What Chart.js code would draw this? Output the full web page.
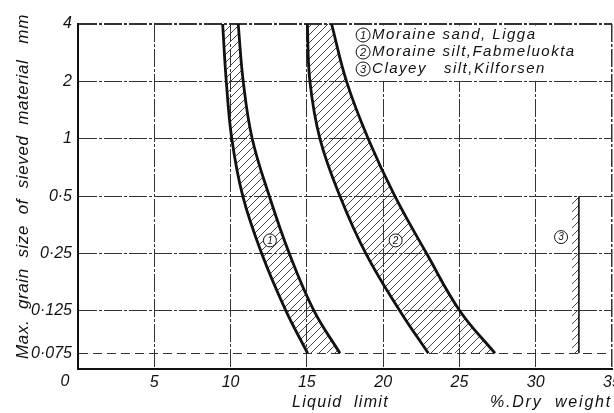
<!DOCTYPE html>
<html>
<head>
<meta charset="utf-8">
<script src="https://cdn.jsdelivr.net/npm/chart.js@4/dist/chart.umd.min.js"></script>
<style>
    html, body { margin: 0; padding: 0; background: #fff; }
</style>
</head>
<body>
<canvas id="chart" width="614" height="413"></canvas>
<script>
// grain size levels (mm), bottom to top
const grainSizes = [0.075, 0.125, 0.25, 0.5, 1, 2, 4];

// liquid limit (% dry weight) on the edges of each band
const sandLeft  = [15.05, 13.63, 12.04, 10.80, 10.08, 9.72, 9.48];
const sandRight = [17.17, 15.47, 13.85, 12.54, 11.42, 10.83, 10.50];
const siltLeft  = [22.96, 21.10, 18.87, 17.17, 15.86, 15.20, 15.03];
const siltRight = [27.33, 25.03, 22.85, 20.77, 19.02, 17.60, 16.62];

// clayey silt: a single vertical line
const claySizes = [0.075, 0.5];
const clayLimit = [32.83, 32.83];

const xTickValues = [0, 5, 10, 15, 20, 25, 30, 35];
const yTickValues = [0.075, 0.125, 0.25, 0.5, 1, 2, 4];
const yTickLabels = ["0·075", "0·125", "0·25", "0·5", "1", "2", "4"];

const legendItems = ["Moraine sand, Ligga", "Moraine silt,Fabmeluokta", "Clayey   silt,Kilforsen"];
// where the circled numbers sit inside the plot (liquid limit, grain size)
const markerX = [12.58, 20.82, 31.66];
const markerY = [0.293, 0.293, 0.305];

const FONT = '"Liberation Sans", Arial, sans-serif';
const INK = "#111";
const gridDash = [18, 2, 3, 2];

function hatch() {
    const c = document.createElement("canvas");
    c.width = 8; c.height = 8;
    const g = c.getContext("2d");
    g.strokeStyle = "#333";
    g.lineWidth = 0.9;
    g.beginPath();
    g.moveTo(0, 8); g.lineTo(8, 0);
    g.moveTo(-1, 1); g.lineTo(1, -1);
    g.moveTo(7, 9); g.lineTo(9, 7);
    g.stroke();
    return g.createPattern(c, "repeat");
}
const hatchFill = hatch();

const pts = (xs, ys) => xs.map((x, i) => ({ x, y: ys[i] }));

function edge(xs, ys, fill) {
    return {
        data: pts(xs, ys),
        borderColor: INK,
        borderWidth: 2.8,
        pointRadius: 0,
        tension: 0.4,
        fill: fill ? "-1" : false,
        backgroundColor: hatchFill
    };
}

function circled(ctx, cx, cy, label, r) {
    ctx.save();
    ctx.letterSpacing = "0px";
    ctx.fillStyle = "#fff";
    ctx.strokeStyle = INK;
    ctx.lineWidth = 1;
    ctx.beginPath();
    ctx.arc(cx, cy, r, 0, Math.PI * 2);
    ctx.fill();
    ctx.stroke();
    ctx.fillStyle = INK;
    ctx.font = `italic ${Math.round(r * 1.6)}px ${FONT}`;
    ctx.textAlign = "center";
    ctx.textBaseline = "middle";
    ctx.fillText(label, cx, cy + 0.5);
    ctx.restore();
}

const overlay = {
    id: "overlay",
    beforeDatasetsDraw(chart) {
        // legend box covers the grid in the top right corner
        const { ctx, chartArea: a, scales: { x, y } } = chart;
        const left = x.getPixelForValue(17.9);
        ctx.save();
        ctx.fillStyle = "#fff";
        ctx.fillRect(left, a.top + 1.5, x.getPixelForValue(35) - 1 - left, y.getPixelForValue(2) - a.top - 2);
        ctx.restore();
    },
    afterDraw(chart) {
        const { ctx, chartArea: a, scales: { x, y } } = chart;
        ctx.save();
        ctx.fillStyle = INK;
        ctx.textBaseline = "middle";

        // legend
        const lx = x.getPixelForValue(17.9);
        legendItems.forEach((txt, i) => {
            const ly = a.top + 11 + i * 17;
            circled(ctx, lx + 12, ly, String(i + 1), 7);
            ctx.font = `italic 15px ${FONT}`;
            ctx.letterSpacing = "1.5px";
            ctx.textAlign = "left";
            ctx.fillStyle = INK;
            ctx.fillText(txt, lx + 21, ly);
        });

        // circled numbers on the bands
        markerX.forEach((mx, i) => {
            circled(ctx, x.getPixelForValue(mx), y.getPixelForValue(markerY[i]), String(i + 1), 6.5);
        });

        // origin label sits left of the corner
        ctx.letterSpacing = "0px";
        ctx.font = `italic 16px ${FONT}`;
        ctx.textAlign = "center";
        ctx.fillText("0", x.getPixelForValue(0) - 13, a.bottom + 13);

        // axis titles
        ctx.letterSpacing = "1.3px";
        ctx.font = `italic 16px ${FONT}`;
        ctx.fillText("Liquid  limit", x.getPixelForValue(17.2), a.bottom + 34);
        ctx.textAlign = "left";
        ctx.letterSpacing = "1.8px";
        ctx.fillText("%.Dry  weight", x.getPixelForValue(27), a.bottom + 34);

        ctx.translate(23, (a.top + a.bottom) / 2 - 10);
        ctx.rotate(-Math.PI / 2);
        ctx.textAlign = "center";
        ctx.font = `italic 17px ${FONT}`;
        ctx.letterSpacing = "0.6px";
        ctx.fillText("Max.  grain  size  of  sieved  material   mm", 0, 0);
        ctx.restore();
    }
};

new Chart(document.getElementById("chart"), {
    type: "line",
    data: {
        datasets: [
            edge(sandLeft, grainSizes, false),
            edge(sandRight, grainSizes, true),
            edge(siltLeft, grainSizes, false),
            edge(siltRight, grainSizes, true),
            { ...edge(clayLimit.map(v => v - 0.45), claySizes, false), borderWidth: 0 },
            { ...edge(clayLimit, claySizes, true), borderWidth: 1.6 }
        ]
    },
    options: {
        indexAxis: "y",
        responsive: false,
        animation: false,
        layout: { padding: { top: 24, right: 2, left: 0, bottom: 0 } },
        plugins: { legend: { display: false }, tooltip: { enabled: false } },
        scales: {
            x: {
                type: "linear",
                min: 0,
                max: 35,
                afterBuildTicks: s => { s.ticks = xTickValues.map(value => ({ value })); },
                afterFit: s => { s.height = 44; s.paddingLeft = 0; s.paddingRight = 0; },
                ticks: {
                    autoSkip: false,
                    maxRotation: 0,
                    padding: 4,
                    color: INK,
                    font: { family: FONT, size: 16, style: "italic" },
                    callback: v => (v === 0 ? "" : String(v))
                },
                grid: {
                    drawTicks: false,
                    color: "#333",
                    lineWidth: c => (c.tick && c.tick.value === 35 ? 1.5 : 1)
                },
                border: { display: true, color: INK, width: 2, dash: c => (c.tick ? gridDash : []) }
            },
            y: {
                type: "logarithmic",
                min: 0.062,
                max: 4,
                afterBuildTicks: s => { s.ticks = yTickValues.map(value => ({ value })); },
                afterFit: s => { s.width = 78; s.paddingTop = 0; s.paddingBottom = 0; },
                ticks: {
                    autoSkip: false,
                    padding: 6,
                    color: INK,
                    font: { family: FONT, size: 16, style: "italic" },
                    callback: (v, i) => yTickLabels[i]
                },
                grid: {
                    drawTicks: false,
                    color: "#333",
                    lineWidth: c => (c.tick && c.tick.value === 4 ? 2 : 1)
                },
                border: {
                    display: true, color: INK, width: 2,
                    dash: c => (!c.tick ? [] : c.tick.value === 0.075 ? [9, 5] : gridDash)
                }
            }
        }
    },
    plugins: [overlay]
});
</script>
</body>
</html>
